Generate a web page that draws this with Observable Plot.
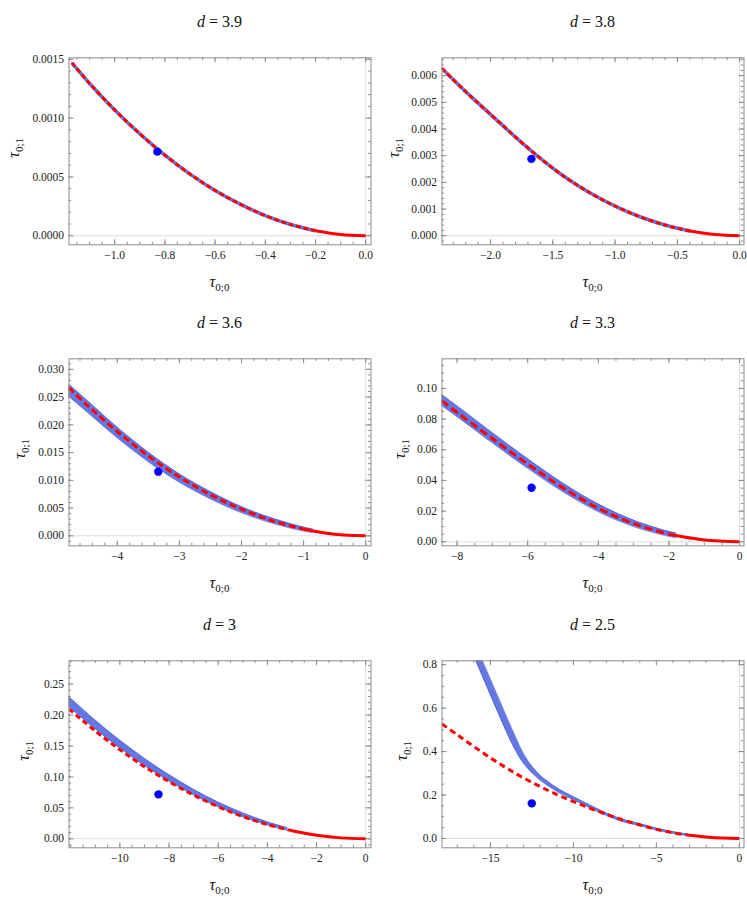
<!DOCTYPE html>
<html><head><meta charset="utf-8">
<script src="https://cdn.jsdelivr.net/npm/d3@7"></script>
<script src="https://cdn.jsdelivr.net/npm/@observablehq/plot@0.6"></script>
<style>
body{margin:0;background:#fff;}
#grid{display:grid;grid-template-columns:373px 374px;grid-template-rows:301px 302px 303px;width:747px;height:906px;}
#grid svg{display:block;}
#grid svg, #grid svg text, #grid svg g{font-family:'Liberation Serif','Times New Roman',serif !important;}
</style></head><body><div id="grid"></div>
<script>
// ---------- data ----------
const dValues = ["3.9", "3.8", "3.6", "3.3", "3", "2.5"];

// d = 3.9
const p1RedX = [-1.17, -1.1, -1.0, -0.9, -0.8, -0.7, -0.6, -0.5, -0.4, -0.3, -0.2, -0.1, 0];
const p1RedY = [0.00147, 0.001295, 0.00107, 0.000867, 0.000685, 0.000524, 0.000385, 0.000268, 0.000171, 0.0000963, 0.0000428, 0.0000107, 0];
const p1BlueX = [-1.17, -1.1, -1.0, -0.9, -0.8, -0.7, -0.6, -0.5, -0.4, -0.3, -0.2];
const p1BlueMid = [0.00147, 0.001295, 0.00107, 0.000867, 0.000685, 0.000524, 0.000385, 0.000268, 0.000171, 0.0000963, 0.0000428];
const p1BlueHalf = [0.000006, 0.000006, 0.000006, 0.000006, 0.000006, 0.000006, 0.000006, 0.000006, 0.000006, 0.000006, 0.000006];
const p1Dot = [-0.83, 0.000715];
const p1XTicks = [-1.0, -0.8, -0.6, -0.4, -0.2, 0.0];
const p1YTicks = [0, 0.0005, 0.0010, 0.0015];

// d = 3.8
const p2RedX = [-2.39, -2.2, -2.0, -1.8, -1.6, -1.4, -1.2, -1.0, -0.8, -0.6, -0.4, -0.2, 0];
const p2RedY = [0.00627, 0.0054, 0.00455, 0.0037, 0.0029, 0.00219, 0.0016, 0.00111, 0.00071, 0.0004, 0.000178, 0.000045, 0];
const p2BlueX = [-2.39, -2.2, -2.0, -1.8, -1.6, -1.4, -1.2, -1.0, -0.8, -0.6, -0.4];
const p2BlueMid = [0.00627, 0.0054, 0.00455, 0.0037, 0.0029, 0.00219, 0.0016, 0.00111, 0.00071, 0.0004, 0.000178];
const p2BlueHalf = [0.00003, 0.00003, 0.00003, 0.00003, 0.00003, 0.00003, 0.00003, 0.00003, 0.00003, 0.00003, 0.00003];
const p2Dot = [-1.672, 0.00288];
const p2XTicks = [-2.0, -1.5, -1.0, -0.5, 0.0];
const p2YTicks = [0, 0.001, 0.002, 0.003, 0.004, 0.005, 0.006];

// d = 3.6
const p3RedX = [-4.78, -4.5, -4, -3.5, -3, -2.5, -2, -1.5, -1, -0.5, 0];
const p3RedY = [0.0267, 0.0237, 0.0188, 0.0144, 0.0106, 0.0074, 0.0048, 0.0027, 0.0012, 0.0003, 0];
const p3BlueX = [-4.8, -4.5, -4, -3.5, -3, -2.5, -2, -1.5, -1, -0.85];
const p3BlueMid = [0.0264, 0.0235, 0.0186, 0.0142, 0.0104, 0.0073, 0.0047, 0.0027, 0.0012, 0.0009];
const p3BlueHalf = [0.0011, 0.00105, 0.00095, 0.00085, 0.00075, 0.00065, 0.00055, 0.00045, 0.00035, 0.0003];
const p3Dot = [-3.34, 0.01156];
const p3XTicks = [-4, -3, -2, -1, 0];
const p3YTicks = [0, 0.005, 0.010, 0.015, 0.020, 0.025, 0.030];

// d = 3.3
const p4RedX = [-8.43, -8, -7, -6, -5, -4, -3, -2, -1, 0];
const p4RedY = [0.0918, 0.0843, 0.0673, 0.0507, 0.0352, 0.0219, 0.0118, 0.0049, 0.0012, 0];
const p4BlueX = [-8.5, -8, -7, -6, -5, -4, -3, -2, -1.8];
const p4BlueMid = [0.0935, 0.0851, 0.0678, 0.0510, 0.0354, 0.0221, 0.0120, 0.0051, 0.0042];
const p4BlueHalf = [0.0036, 0.0035, 0.0033, 0.0031, 0.0028, 0.0025, 0.0021, 0.0016, 0.0015];
const p4Dot = [-5.89, 0.0352];
const p4XTicks = [-8, -6, -4, -2, 0];
const p4YTicks = [0, 0.02, 0.04, 0.06, 0.08, 0.10];

// d = 3
const p5RedX = [-12.07, -11, -10, -9, -8, -7, -6, -5, -4, -3, -2, -1, 0];
const p5RedY = [0.2098, 0.1742, 0.144, 0.1166, 0.0922, 0.0706, 0.0518, 0.036, 0.023, 0.013, 0.0058, 0.00144, 0];
const p5BlueX = [-12.1, -11, -10, -9, -8, -7, -6, -5, -4, -3.2];
const p5BlueMid = [0.2225, 0.1845, 0.1527, 0.1240, 0.0982, 0.0752, 0.0553, 0.0385, 0.0247, 0.0157];
const p5BlueHalf = [0.0080, 0.0072, 0.0064, 0.0058, 0.0052, 0.0045, 0.0038, 0.0032, 0.0026, 0.0022];
const p5Dot = [-8.43, 0.0718];
const p5XTicks = [-10, -8, -6, -4, -2, 0];
const p5YTicks = [0, 0.05, 0.10, 0.15, 0.20, 0.25];

// d = 2.5
const p6RedX = [-17.92, -17, -16, -15, -14, -13, -12, -11, -10, -9, -8, -7, -6, -5, -4, -3, -2, -1, 0];
const p6RedY = [0.527, 0.477, 0.423, 0.371, 0.323, 0.278, 0.239, 0.202, 0.170, 0.139, 0.111, 0.085, 0.062, 0.042, 0.026, 0.0145, 0.0068, 0.0018, 0];
const p6BlueX = [-16.0, -15.5, -15.0, -14.5, -14.0, -13.5, -13.0, -12.5, -12.0, -11.5, -11.0, -10.5, -10.0, -9.0, -8.0, -7.0, -6.0, -5.0, -4.0, -3.0];
const p6BlueMid = [0.875, 0.786, 0.697, 0.608, 0.520, 0.438, 0.367, 0.317, 0.279, 0.250, 0.225, 0.204, 0.185, 0.147, 0.111, 0.082, 0.0635, 0.0435, 0.0275, 0.0152];
const p6BlueHalf = [0.036, 0.036, 0.036, 0.036, 0.035, 0.031, 0.022, 0.015, 0.011, 0.0095, 0.0085, 0.0078, 0.0072, 0.0064, 0.0058, 0.005, 0.0045, 0.004, 0.0035, 0.003];
const p6Dot = [-12.51, 0.1615];
const p6XTicks = [-15, -10, -5, 0];
const p6YTicks = [0, 0.2, 0.4, 0.6, 0.8];

// ---------- panel settings ----------
const panels = [
  {d: dValues[0], rx: p1RedX, ry: p1RedY, bx: p1BlueX, bm: p1BlueMid, bh: p1BlueHalf, dot: p1Dot, xt: p1XTicks, yt: p1YTicks,
   xDom: [-1.182, 0.021], yDom: [-0.000077, 0.001513], xDec: 1, yDec: 4, xMinor: 0.05, yMinor: 0.0001, split: -0.2, dash: "5,2.6", thin: true, yLab: 15},
  {d: dValues[1], rx: p2RedX, ry: p2RedY, bx: p2BlueX, bm: p2BlueMid, bh: p2BlueHalf, dot: p2Dot, xt: p2XTicks, yt: p2YTicks,
   xDom: [-2.39, 0.035], yDom: [-0.00034, 0.00667], xDec: 1, yDec: 3, xMinor: 0.1, yMinor: 0.0002, split: -0.4, dash: "5,2.6", thin: true, yLab: 22},
  {d: dValues[2], rx: p3RedX, ry: p3RedY, bx: p3BlueX, bm: p3BlueMid, bh: p3BlueHalf, dot: p3Dot, xt: p3XTicks, yt: p3YTicks,
   xDom: [-4.777, 0.085], yDom: [-0.0018, 0.0319], xDec: 0, yDec: 3, xMinor: 0.2, yMinor: 0.001, split: -1, dash: "7,3.5", thin: false, yLab: 21.5},
  {d: dValues[3], rx: p4RedX, ry: p4RedY, bx: p4BlueX, bm: p4BlueMid, bh: p4BlueHalf, dot: p4Dot, xt: p4XTicks, yt: p4YTicks,
   xDom: [-8.426, 0.125], yDom: [-0.0026, 0.1193], xDec: 0, yDec: 2, xMinor: 0.5, yMinor: 0.005, split: -2, dash: "8,4", thin: false, yLab: 28.5},
  {d: dValues[4], rx: p5RedX, ry: p5RedY, bx: p5BlueX, bm: p5BlueMid, bh: p5BlueHalf, dot: p5Dot, xt: p5XTicks, yt: p5YTicks,
   xDom: [-12.07, 0.215], yDom: [-0.0146, 0.2877], xDec: 0, yDec: 2, xMinor: 0.5, yMinor: 0.01, split: -3, dash: "5.5,3.5", thin: false, yLab: 25},
  {d: dValues[5], rx: p6RedX, ry: p6RedY, bx: p6BlueX, bm: p6BlueMid, bh: p6BlueHalf, dot: p6Dot, xt: p6XTicks, yt: p6YTicks,
   xDom: [-17.92, 0.28], yDom: [-0.043, 0.818], xDec: 0, yDec: 1, xMinor: 1, yMinor: 0.05, split: -3, dash: "6,4", thin: false, yLab: 30}
];

const rowH = [301, 302, 303];
const colW = [373, 374];
const FONT = "'Liberation Serif', 'Times New Roman', serif";
const GRAY = "#8c8c8c";
const BLUE_FILL = "#6478e4";
const BLUE_EDGE = "#4659d0";

const fmt = n => d => (d < -1e-12 ? "\u2212" : "") + Math.abs(d).toFixed(n);
function minorTicks(dom, step) {
  const a = Math.ceil(dom[0] / step - 1e-9), b = Math.floor(dom[1] / step + 1e-9);
  return d3.range(a, b + 1).map(k => +(k * step).toPrecision(10));
}

const grid = document.getElementById("grid");
panels.forEach((p, i) => {
  const W = colW[i % 2], H = rowH[Math.floor(i / 2)];
  const mL = 68.5, mT = 57.3, FW = 302, FH = 187;
  const mR = W - mL - FW, mB = H - mT - FH;
  const red = p.rx.map((x, k) => ({x, y: p.ry[k]}));
  const redDashed = red.filter(r => r.x <= p.split + 1e-9);
  const redSolid = red.filter(r => r.x >= p.split - 1e-9);
  const blue = p.bx.map((x, k) => ({x, mid: p.bm[k], lo: p.bm[k] - p.bh[k], hi: p.bm[k] + p.bh[k]}));
  const curve = "catmull-rom";
  const xMin = minorTicks(p.xDom, p.xMinor), yMin = minorTicks(p.yDom, p.yMinor);
  const MAJ = 5, MIN = 2.6;
  const svg = Plot.plot({
    width: W, height: H, marginLeft: mL, marginRight: mR, marginTop: mT, marginBottom: mB,
    style: {fontFamily: FONT, fontSize: "11px", color: "#222", background: "#fff"},
    x: {domain: p.xDom},
    y: {domain: p.yDom},
    marks: [
      Plot.ruleY([0], {stroke: "#dedede", strokeWidth: 1}),
      Plot.ruleX([0], {stroke: "#dedede", strokeWidth: 1}),
      Plot.areaY(blue, {x: "x", y1: "lo", y2: "hi", fill: BLUE_FILL, curve, clip: true}),
      Plot.line(blue, {x: "x", y: "lo", stroke: BLUE_EDGE, strokeWidth: 0.7, curve, clip: true}),
      Plot.line(blue, {x: "x", y: "hi", stroke: BLUE_EDGE, strokeWidth: 0.7, curve, clip: true}),
      Plot.line(blue, {x: "x", y: "mid", stroke: BLUE_FILL, strokeWidth: p.thin ? 3.6 : 2.2, strokeLinecap: "butt", curve, clip: true}),
      Plot.line(redDashed, {x: "x", y: "y", stroke: "#ff0000", strokeWidth: 3, strokeDasharray: p.dash, strokeLinecap: "butt", curve, clip: true}),
      Plot.line(redSolid, {x: "x", y: "y", stroke: "#ff0000", strokeWidth: 3, strokeLinecap: "butt", curve, clip: true}),
      Plot.dot([p.dot], {x: d => d[0], y: d => d[1], r: 4.2, fill: "#0000ff", stroke: "none"}),
      Plot.frame({stroke: GRAY, strokeWidth: 1}),
      Plot.tickX(p.xt, {x: d => d, insetTop: FH - MAJ, stroke: GRAY}),
      Plot.tickX(p.xt, {x: d => d, insetBottom: FH - MAJ, stroke: GRAY}),
      Plot.tickX(xMin, {x: d => d, insetTop: FH - MIN, stroke: GRAY}),
      Plot.tickX(xMin, {x: d => d, insetBottom: FH - MIN, stroke: GRAY}),
      Plot.tickY(p.yt, {y: d => d, insetRight: FW - MAJ, stroke: GRAY}),
      Plot.tickY(p.yt, {y: d => d, insetLeft: FW - MAJ, stroke: GRAY}),
      Plot.tickY(yMin, {y: d => d, insetRight: FW - MIN, stroke: GRAY}),
      Plot.tickY(yMin, {y: d => d, insetLeft: FW - MIN, stroke: GRAY}),
      Plot.axisX({ticks: p.xt, tickSize: 0, tickPadding: 6, tickFormat: fmt(p.xDec), label: null, fontSize: 11.5}),
      Plot.axisY({ticks: p.yt, tickSize: 0, tickPadding: 5, tickFormat: fmt(p.yDec), label: null, fontSize: 11.5})
    ]
  });
  const s = d3.select(svg);
  s.style("font-family", FONT);
  s.selectAll("g").attr("font-family", FONT);
  const cx = mL + FW / 2;
  // title
  const t = s.append("text").attr("x", cx).attr("y", 26.5).attr("text-anchor", "middle")
    .attr("font-family", FONT).attr("font-size", 16).attr("fill", "#111");
  t.append("tspan").attr("font-style", "italic").text("d");
  t.append("tspan").text(" = " + p.d);
  // x label
  const xl = s.append("text").attr("x", cx).attr("y", 287).attr("text-anchor", "middle")
    .attr("font-family", FONT).attr("fill", "#111");
  xl.append("tspan").attr("font-style", "italic").attr("font-size", 16).text("\u03C4");
  xl.append("tspan").attr("font-size", 11).attr("dy", 4).text("0;0");
  // y label
  const yl = s.append("text").attr("transform", `translate(${p.yLab + 3.5},${mT + FH / 2 - 3}) rotate(-90)`)
    .attr("text-anchor", "middle").attr("font-family", FONT).attr("fill", "#111");
  yl.append("tspan").attr("font-style", "italic").attr("font-size", 16).text("\u03C4");
  yl.append("tspan").attr("font-size", 11).attr("dy", 4).text("0;1");
  grid.appendChild(svg);
});
</script>
</body></html>
